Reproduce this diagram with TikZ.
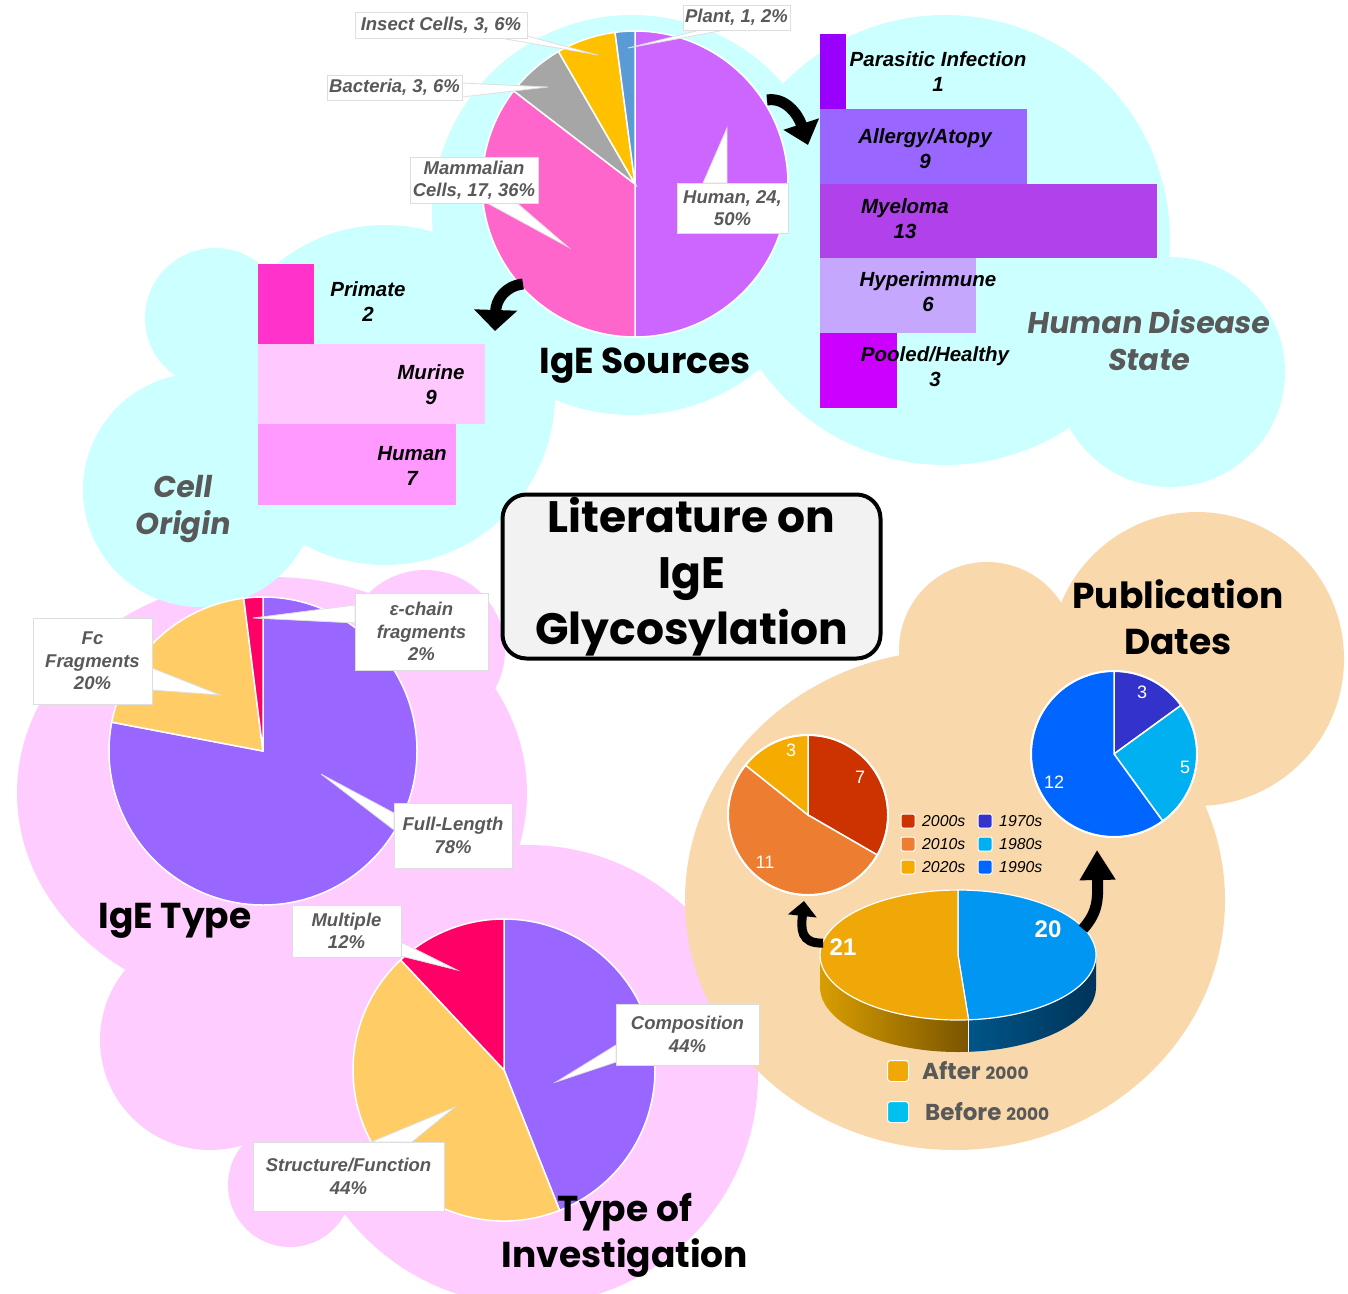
\documentclass[tikz,border=0pt]{standalone}
\usepackage{fontspec}
\setmainfont{Liberation Sans}
\newfontfamily\gfont{Poppins}
\newfontfamily\gslfont{Poppins}[FakeSlant=0.15]
\usetikzlibrary{arrows.meta,calc}
\definecolor{cyanbg}{HTML}{CCFFFF}
\definecolor{pinkbg}{HTML}{FFCCFF}
\definecolor{peachbg}{HTML}{F9D8AB}
\definecolor{lblgray}{HTML}{595959}
\definecolor{cHuman}{HTML}{CC66FF}
\definecolor{cMamm}{HTML}{FF66CC}
\definecolor{cBact}{HTML}{A6A6A6}
\definecolor{cInsect}{HTML}{FFC000}
\definecolor{cPlant}{HTML}{5B9BD5}
\definecolor{cPurple}{HTML}{9966FF}
\definecolor{cYellow}{HTML}{FFCC66}
\definecolor{cRed}{HTML}{FF0066}
\definecolor{bPara}{HTML}{9900FF}
\definecolor{bAllergy}{HTML}{9966FF}
\definecolor{bMyel}{HTML}{B041EB}
\definecolor{bHyper}{HTML}{C5A8FD}
\definecolor{bPool}{HTML}{CC00FF}
\definecolor{bPrim}{HTML}{FF33CC}
\definecolor{bMur}{HTML}{FFC9FF}
\definecolor{bHum}{HTML}{FF99FF}
\definecolor{d2000}{HTML}{CC3300}
\definecolor{d2010}{HTML}{ED7D31}
\definecolor{d2020}{HTML}{F5AB00}
\definecolor{d1970}{HTML}{3333CC}
\definecolor{d1980}{HTML}{00B0F0}
\definecolor{d1990}{HTML}{0066FF}
\definecolor{pOrange}{HTML}{F0A808}
\definecolor{pBlue}{HTML}{0096F2}
\definecolor{oSideL}{HTML}{D89E00}
\definecolor{oSideR}{HTML}{7A5500}
\definecolor{bSideL}{HTML}{005588}
\definecolor{bSideR}{HTML}{00345A}
\definecolor{legCyan}{HTML}{00C0F0}
\definecolor{titlebg}{HTML}{F2F2F2}
\newcommand\mkslice[5]{\fill[#5, draw=white, line width=1.5pt] (#1) -- ++(#3:#2) arc[start angle=#3, end angle=#4, radius=#2] -- cycle;}
\begin{document}
\begin{tikzpicture}[x=1pt,y=-1pt,
  lbl/.style={draw=black!13, line width=0.8pt, fill=white, text=lblgray, align=center, inner sep=0pt, font=\fontsize{18.5}{22.5}\selectfont\bfseries\itshape},
  wedge/.style={fill=white, draw=black!13, line width=0.8pt},
  barlbl/.style={font=\fontsize{20.5}{25}\selectfont\bfseries\itshape, align=center, inner sep=0pt},
  bigT/.style={font=\gfont\bfseries\fontsize{36}{46}\selectfont, align=center, inner sep=0pt},
  grayT/.style={font=\gslfont\bfseries\fontsize{30}{37}\selectfont, align=center, text=lblgray, inner sep=0pt},
  pienum/.style={font=\fontsize{18}{20}\selectfont, text=white, inner sep=0pt},
  legtxt/.style={font=\fontsize{15.8}{18}\selectfont\itshape, anchor=west, inner sep=0pt},
  legsq/.style={draw=white, line width=1pt, rounded corners=2pt, minimum size=14pt, inner sep=0pt},
  arr/.style={draw=black, line width=#1},
]
\path[use as bounding box] (0,0) rectangle (1348,1293);
% ---------- background clouds ----------
\fill[pinkbg] (272,793) ellipse[x radius=255, y radius=216];
\fill[pinkbg] (425,650) circle[radius=80];
\fill[pinkbg] (528,1075) circle[radius=230];
\fill[pinkbg] (210,1040) circle[radius=110];
\fill[pinkbg] (310,1110) circle[radius=55];
\fill[pinkbg] (290,1185) circle[radius=62];
\fill[peachbg] (955,900) ellipse[x radius=270, y radius=250];
\fill[peachbg] (1197,659) circle[radius=147];
\fill[peachbg] (987,650) circle[radius=88];
\fill[cyanbg] (632,215) circle[radius=200];
\fill[cyanbg] (945,240) circle[radius=225];
\fill[cyanbg] (1170,372) circle[radius=115];
\fill[cyanbg] (215,318) circle[radius=70];
\fill[cyanbg] (200,490) circle[radius=117];
\fill[cyanbg] (385,395) circle[radius=170];
% ---------- title box ----------
\node[draw=black, line width=4pt, rounded corners=24pt, fill=titlebg, minimum width=378pt, minimum height=164pt, inner sep=0pt, align=center, font=\gfont\bfseries\fontsize{44}{56}\selectfont] (title) at (691.5,576.5) {Literature on\\IgE\\Glycosylation};
% ---------- IgE Sources pie ----------
\coordinate (srcC) at (635,184);
\mkslice{srcC}{153}{-90}{90}{cHuman}
\mkslice{srcC}{153}{90}{217.5}{cMamm}
\mkslice{srcC}{153}{217.5}{240}{cBact}
\mkslice{srcC}{153}{240}{262.5}{cInsect}
\mkslice{srcC}{153}{262.5}{270}{cPlant}
\coordinate (insectC) at (441,25);   \coordinate (tInsect) at (598,55);
\coordinate (plantC) at (736.5,17.5); \coordinate (tPlant) at (628,48);
\coordinate (bactC) at (394.5,87.5); \coordinate (tBact) at (548,87);
\coordinate (mammC) at (474,180);    \coordinate (tMamm) at (568,247);
\coordinate (humC) at (732.5,208);   \coordinate (tHum) at (727,128);
\fill[wedge] ($(insectC)+(59,13)$) -- (tInsect) -- ($(insectC)+(86,11)$) -- cycle;
\fill[wedge] ($(plantC)+(-36.5,12.5)$) -- (tPlant) -- ($(plantC)+(-11.5,12.5)$) -- cycle;
\fill[wedge] ($(bactC)+(67.5,-4.5)$) -- (tBact) -- ($(bactC)+(67.5,9.5)$) -- cycle;
\fill[wedge] ($(mammC)+(13,23)$) -- (tMamm) -- ($(mammC)+(43,23)$) -- cycle;
\fill[wedge] ($(humC)+(-29.5,-25)$) -- (tHum) -- ($(humC)+(-5.5,-25)$) -- cycle;
\node[lbl, minimum width=172pt, minimum height=26pt] (insect) at (insectC) {Insect Cells, 3, 6\%};
\node[lbl, minimum width=107pt, minimum height=25pt] (plant) at (plantC) {Plant, 1, 2\%};
\node[lbl, minimum width=135pt, minimum height=25pt] (bact) at (bactC) {Bacteria, 3, 6\%};
\node[lbl, minimum width=128pt, minimum height=46pt] (mamm) at (mammC) {Mammalian\\Cells, 17, 36\%};
\node[lbl, minimum width=111pt, minimum height=50pt] (hum) at (humC) {Human, 24,\\50\%};
% ---------- Human disease bars ----------
\fill[bPara] (820,34) rectangle (846,109);
\fill[bAllergy] (820,109) rectangle (1027,184);
\fill[bMyel] (820,184) rectangle (1157,258);
\fill[bHyper] (820,258) rectangle (976,333);
\fill[bPool] (820,333) rectangle (897,408);
\node[barlbl] (para) at (938,72) {Parasitic Infection\\1};
\node[barlbl] (allergy) at (925,149) {Allergy/Atopy\\9};
\node[barlbl] (myel) at (905,218.5) {Myeloma\\13};
\node[barlbl] (hyper) at (928,292) {Hyperimmune\\6};
\node[barlbl] (pool) at (935,367) {Pooled/Healthy\\3};
% ---------- Cell origin bars ----------
\fill[bPrim] (258,264) rectangle (314,344);
\fill[bMur] (258,344) rectangle (485,424);
\fill[bHum] (258,424) rectangle (456,505);
\node[barlbl] (prim) at (368,302) {Primate\\2};
\node[barlbl] (mur) at (431,385) {Murine\\9};
\node[barlbl] (humcell) at (412,466) {Human\\7};
% ---------- IgE Type pie ----------
\coordinate (typeC) at (263,751);
\mkslice{typeC}{154}{-90}{190.8}{cPurple}
\mkslice{typeC}{154}{190.8}{262.8}{cYellow}
\mkslice{typeC}{154}{262.8}{270}{cRed}
\coordinate (epsC) at (421.5,631.5); \coordinate (tEps) at (253,618);
\coordinate (fcC) at (92.5,661);     \coordinate (tFc) at (220,695);
\coordinate (fullC) at (453,835.5);  \coordinate (tFull) at (321,774);
\fill[wedge] ($(epsC)+(-66.5,-26.5)$) -- (tEps) -- ($(epsC)+(-66.5,-8.5)$) -- cycle;
\fill[wedge] ($(fcC)+(59.5,7)$) -- (tFc) -- ($(fcC)+(59.5,29)$) -- cycle;
\fill[wedge] ($(fullC)+(-59,-22.5)$) -- (tFull) -- ($(fullC)+(-59,-5.5)$) -- cycle;
\node[lbl, minimum width=133pt, minimum height=77pt] (eps) at (epsC) {ε-chain\\fragments\\2\%};
\node[lbl, minimum width=119pt, minimum height=86pt] (fc) at (fcC) {Fc\\Fragments\\20\%};
\node[lbl, minimum width=118pt, minimum height=65pt] (full) at (fullC) {Full-Length\\78\%};
% ---------- Type of investigation pie ----------
\coordinate (invC) at (504,1070);
\mkslice{invC}{151}{-90}{68.4}{cPurple}
\mkslice{invC}{151}{68.4}{226.8}{cYellow}
\mkslice{invC}{151}{226.8}{270}{cRed}
\coordinate (multC) at (346.5,931);    \coordinate (tMult) at (457,970);
\coordinate (compC) at (687.5,1034.5); \coordinate (tComp) at (556,1082);
\coordinate (strC) at (348.5,1176.5);  \coordinate (tStr) at (455,1107);
\fill[wedge] ($(multC)+(54.5,11)$) -- (tMult) -- ($(multC)+(54.5,25)$) -- cycle;
\fill[wedge] ($(compC)+(-71.5,10.5)$) -- (tComp) -- ($(compC)+(-71.5,27.5)$) -- cycle;
\fill[wedge] ($(strC)+(22.5,-34.5)$) -- (tStr) -- ($(strC)+(63.5,-34.5)$) -- cycle;
\node[lbl, minimum width=109pt, minimum height=52pt] (mult) at (multC) {Multiple\\12\%};
\node[lbl, minimum width=143pt, minimum height=61pt] (comp) at (compC) {Composition\\44\%};
\node[lbl, minimum width=191pt, minimum height=69pt] (str) at (strC) {Structure/Function\\44\%};
% ---------- Publication dates: small pies ----------
\coordinate (aftC) at (808,815);
\mkslice{aftC}{80}{-90}{30}{d2000}
\mkslice{aftC}{80}{30}{218.6}{d2010}
\mkslice{aftC}{80}{218.6}{270}{d2020}
\draw[white, line width=2pt] (aftC) circle[radius=80];
\node[pienum] (n7) at (860,777) {7};
\node[pienum] (n11) at (765,862) {11};
\node[pienum] (n3a) at (791,750) {3};
\coordinate (befC) at (1114,754);
\mkslice{befC}{83}{-90}{-36}{d1970}
\mkslice{befC}{83}{-36}{54}{d1980}
\mkslice{befC}{83}{54}{270}{d1990}
\draw[white, line width=2pt] (befC) circle[radius=83];
\node[pienum] (n3b) at (1142,692) {3};
\node[pienum] (n5) at (1185,767) {5};
\node[pienum] (n12) at (1054,782) {12};
% legend decades
\node[legsq, fill=d2000] (s2000) at (908,821) {};
\node[legsq, fill=d2010] (s2010) at (908,844) {};
\node[legsq, fill=d2020] (s2020) at (908,867) {};
\node[legsq, fill=d1970] (s1970) at (985,821) {};
\node[legsq, fill=d1980] (s1980) at (985,844) {};
\node[legsq, fill=d1990] (s1990) at (985,867) {};
\node[legtxt] (t2000) at (922,821) {2000s};
\node[legtxt] (t2010) at (922,844) {2010s};
\node[legtxt] (t2020) at (922,867) {2020s};
\node[legtxt] (t1970) at (999,821) {1970s};
\node[legtxt] (t1980) at (999,844) {1980s};
\node[legtxt] (t1990) at (999,867) {1990s};
% ---------- 3D pie ----------
\coordinate (p3C) at (958,955);
\shade[left color=oSideL, right color=oSideR] ($(p3C)+({138*cos(85.6)},{65*sin(85.6)})$) arc[start angle=85.6, end angle=180, x radius=138, y radius=65] -- ++(0,32) arc[start angle=180, end angle=85.6, x radius=138, y radius=65] -- cycle;
\shade[left color=bSideL, right color=bSideR] ($(p3C)+(138,0)$) arc[start angle=0, end angle=85.6, x radius=138, y radius=65] -- ++(0,32) arc[start angle=85.6, end angle=0, x radius=138, y radius=65] -- cycle;
\draw[white, line width=1pt] ($(p3C)+({138*cos(85.6)},{65*sin(85.6)})$) -- ++(0,32);
\fill[pBlue, draw=white, line width=1.2pt] (p3C) -- ++(0,-65) arc[start angle=-90, end angle=85.6, x radius=138, y radius=65] -- cycle;
\fill[pOrange, draw=white, line width=1.2pt] (p3C) -- ++({138*cos(85.6)},{65*sin(85.6)}) arc[start angle=85.6, end angle=270, x radius=138, y radius=65] -- cycle;
\node[font=\fontsize{24}{26}\selectfont\bfseries, text=white, inner sep=0pt] (n21) at (843,947) {21};
\node[font=\fontsize{24}{26}\selectfont\bfseries, text=white, inner sep=0pt] (n20) at (1048,929) {20};
% bottom legend
\node[legsq, fill=pOrange, minimum size=21pt, rounded corners=3pt] (sAfter) at (898,1071) {};
\node[legsq, fill=legCyan, minimum size=21pt, rounded corners=3pt] (sBefore) at (898,1112) {};
\node[anchor=west, inner sep=0pt, text=lblgray, font=\gfont\bfseries\fontsize{23}{26}\selectfont] (tAfter) at (922,1071) {After {\fontsize{17}{20}\selectfont 2000}};
\node[anchor=west, inner sep=0pt, text=lblgray, font=\gfont\bfseries\fontsize{23}{26}\selectfont] (tBefore) at (925,1112) {Before {\fontsize{17}{20}\selectfont 2000}};
% ---------- arrows ----------
\coordinate (a1s) at (767,100); \coordinate (a1c1) at (785,97); \coordinate (a1c2) at (798,114); \coordinate (a1e) at (808,145);
\draw[arr=11pt, -{Triangle[length=22pt,width=36pt]}] (a1s) .. controls (a1c1) and (a1c2) .. (a1e);
\coordinate (a2s) at (523,284); \coordinate (a2c1) at (505,286); \coordinate (a2c2) at (496,300); \coordinate (a2e) at (495,331);
\draw[arr=11pt, -{Triangle[length=21pt,width=42pt]}] (a2s) .. controls (a2c1) and (a2c2) .. (a2e);
\coordinate (a3s) at (823,943); \coordinate (a3c1) at (800,944); \coordinate (a3c2) at (801,928); \coordinate (a3e) at (804,901);
\draw[arr=9pt, -{Triangle[length=15pt,width=28pt]}] (a3s) .. controls (a3c1) and (a3c2) .. (a3e);
\coordinate (a4s) at (1083,929); \coordinate (a4c1) at (1098,912); \coordinate (a4c2) at (1098,900); \coordinate (a4e) at (1097,850);
\draw[arr=11pt, -{Triangle[length=30pt,width=34pt]}] (a4s) .. controls (a4c1) and (a4c2) .. (a4e);
% ---------- titles ----------
\node[bigT] (srcT) at (645,366) {IgE Sources};
\node[bigT] (typeT) at (175,921) {IgE Type};
\node[bigT] (invT) at (625,1235) {Type of\\Investigation};
\node[bigT] (pubT) at (1178,617) {Publication\\Dates};
\node[grayT] (cellT) at (182,509) {Cell\\Origin};
\node[grayT] (hdsT) at (1148,340) {Human Disease\\State};
\end{tikzpicture}
\end{document}
